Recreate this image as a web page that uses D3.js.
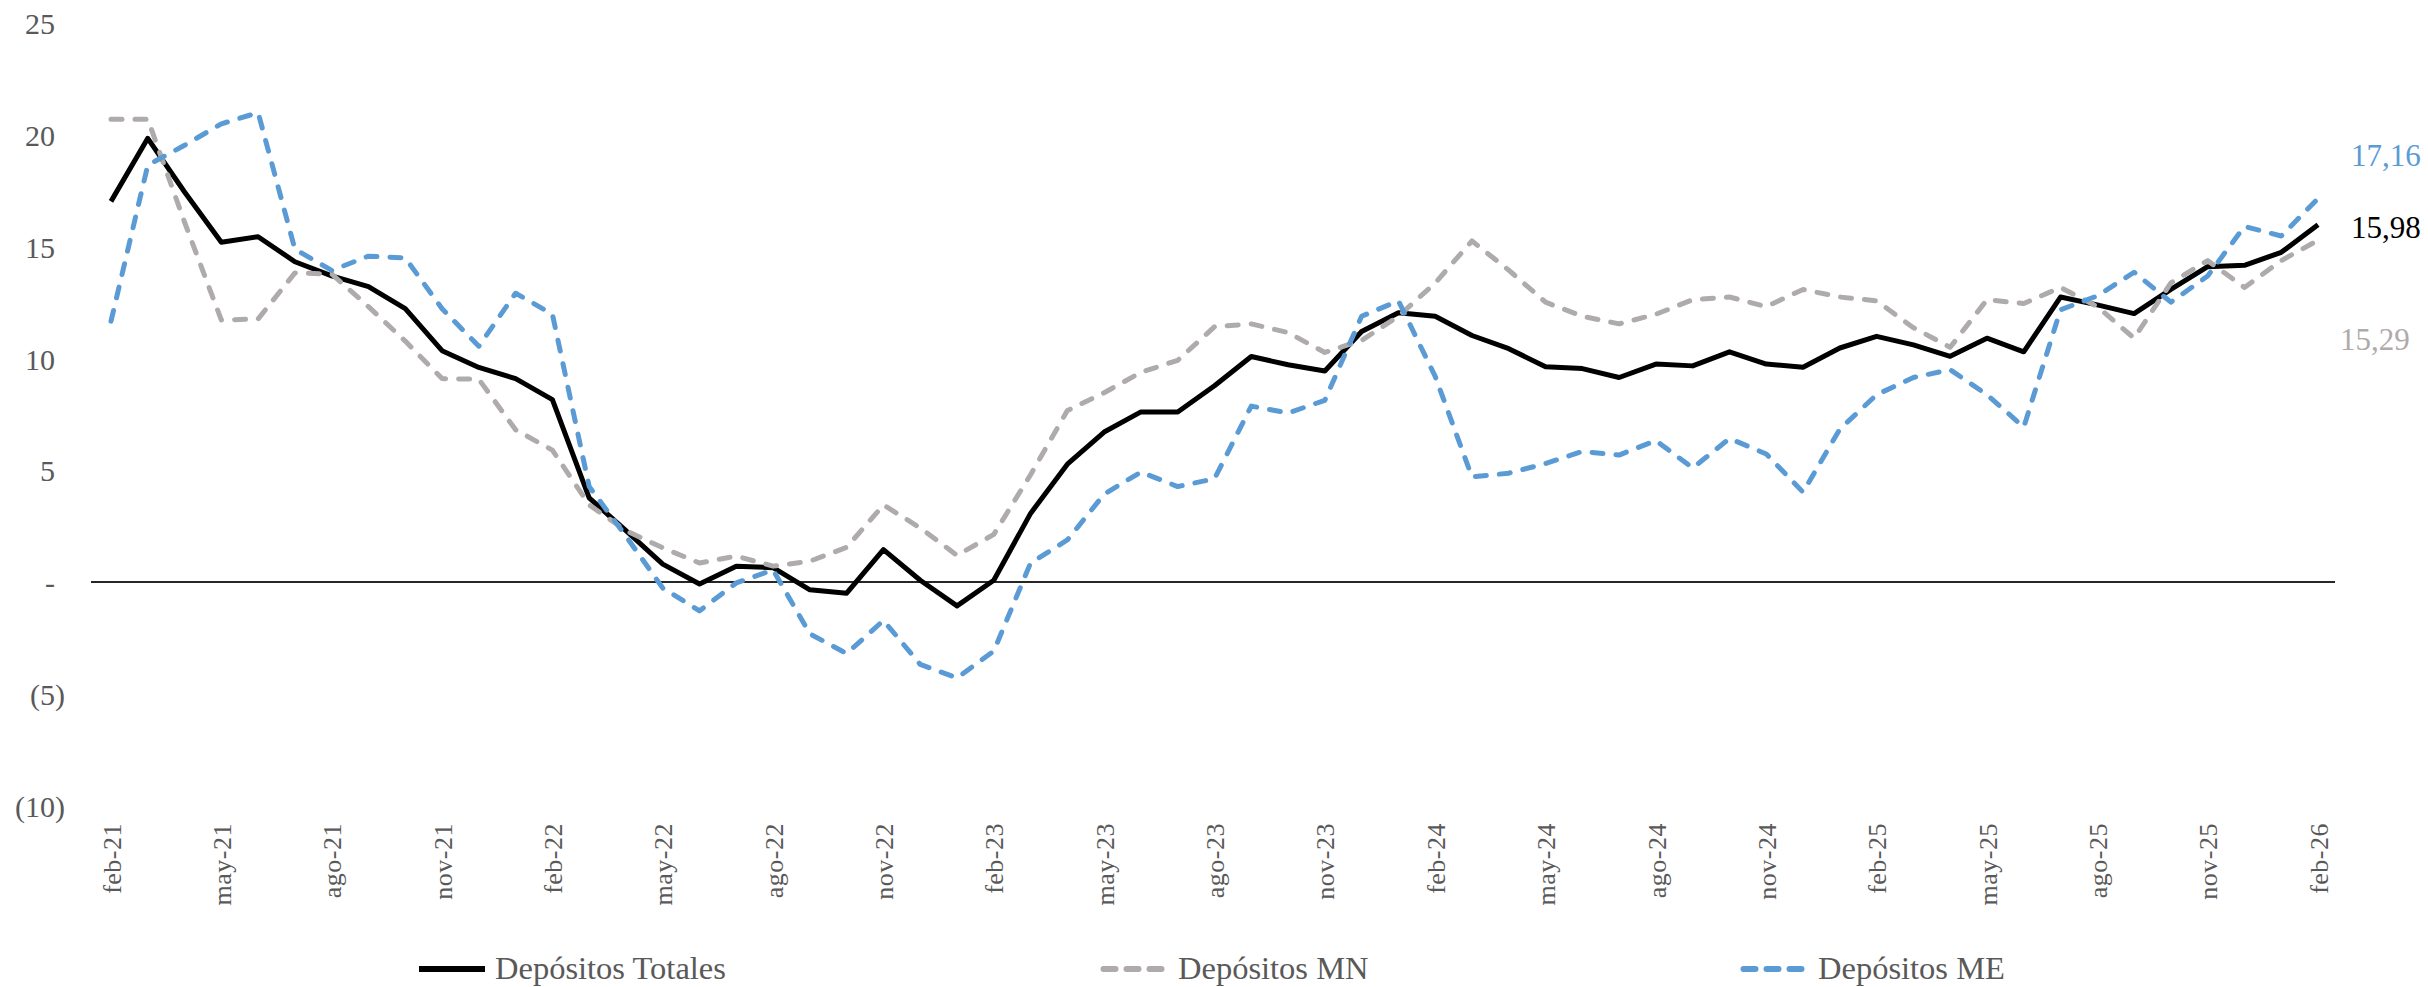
<!DOCTYPE html>
<html>
<head>
<meta charset="utf-8">
<script src="https://cdn.jsdelivr.net/npm/d3@7"></script>
<style>
  html, body { margin: 0; padding: 0; background: #ffffff; }
  svg { display: block; }
</style>
</head>
<body>
<svg id="chart" width="2428" height="987"></svg>
<script>
// Monthly periods, feb-21 .. feb-26
const monthNames = ["ene", "feb", "mar", "abr", "may", "jun", "jul", "ago", "sep", "oct", "nov", "dic"];
const periods = [];
for (let k = 0; k < 61; k++) {
  const m = (1 + k) % 12;
  const yr = 21 + Math.floor((1 + k) / 12);
  periods.push(monthNames[m] + "-" + yr);
}

// Year-on-year growth (%)
const depositosTotales = [
  17.03, 19.85, 17.45, 15.20, 15.45, 14.33, 13.70, 13.22, 12.23, 10.35,
  9.60, 9.10, 8.16, 3.76, 2.30, 0.80, -0.09, 0.71, 0.64, -0.35,
  -0.50, 1.45, 0.08, -1.07, 0.08, 3.07, 5.27, 6.71, 7.61, 7.61,
  8.78, 10.09, 9.72, 9.44, 11.21, 12.05, 11.89, 11.03, 10.44, 9.63,
  9.55, 9.15, 9.75, 9.67, 10.30, 9.75, 9.61, 10.47, 10.99, 10.61,
  10.10, 10.91, 10.30, 12.75, 12.40, 12.01, 13.09, 14.11, 14.17, 14.75, 15.98
];
const depositosMN = [
  20.71, 20.71, 16.10, 11.72, 11.77, 13.83, 13.78, 12.32, 10.78, 9.10,
  9.07, 6.81, 5.90, 3.45, 2.30, 1.53, 0.85, 1.16, 0.71, 0.93,
  1.55, 3.45, 2.42, 1.19, 2.13, 4.80, 7.67, 8.47, 9.38, 9.92,
  11.42, 11.55, 11.16, 10.27, 10.81, 11.89, 13.38, 15.26, 13.95, 12.52,
  11.89, 11.55, 11.98, 12.63, 12.75, 12.32, 13.09, 12.75, 12.58, 11.38,
  10.50, 12.63, 12.46, 13.18, 12.32, 10.91, 13.38, 14.38, 13.18, 14.38, 15.29
];
const depositosME = [
  11.67, 18.65, 19.54, 20.50, 21.00, 14.89, 13.94, 14.58, 14.50, 12.23,
  10.55, 12.92, 11.98, 4.27, 2.05, -0.27, -1.29, -0.04, 0.54, -2.32,
  -3.20, -1.72, -3.69, -4.29, -3.09, 0.85, 1.88, 3.93, 4.92, 4.27,
  4.62, 7.87, 7.56, 8.13, 11.89, 12.58, 9.20, 4.70, 4.87, 5.30,
  5.84, 5.68, 6.33, 5.10, 6.42, 5.73, 4.02, 6.84, 8.38, 9.15,
  9.50, 8.38, 6.93, 12.18, 12.80, 13.86, 12.52, 13.69, 15.91, 15.48, 17.16
];

const yTicks = [-10, -5, 0, 5, 10, 15, 20, 25];
const seriesNames = ["Depósitos Totales", "Depósitos MN", "Depósitos ME"];

const series = [
  { name: seriesNames[0], values: depositosTotales, color: "#000000", dash: null,    labelColor: "#000000", dx: 33, dy: 13 },
  { name: seriesNames[1], values: depositosMN,      color: "#AFABAB", dash: "11,13", labelColor: "#AFABAB", dx: 22, dy: 110 },
  { name: seriesNames[2], values: depositosME,      color: "#5B9BD5", dash: "11,13", labelColor: "#5B9BD5", dx: 33, dy: -32 }
];

const serif = "'Liberation Serif', 'DejaVu Serif', serif";
const svg = d3.select("#chart").style("font-family", serif);
const textGrey = "#595959";

const x = d3.scalePoint().domain(periods).range([92.6, 2336.4]).padding(0.5);
const y = d3.scaleLinear().domain([-10, 25]).range([805.5, 23.25]);

// Y axis labels (accounting format: negatives in parentheses, zero as "-")
const fmt = v => v < 0 ? "(" + Math.abs(v) + ")" : (v === 0 ? "-" : String(v));
const yAxis = d3.axisLeft(y).tickValues(yTicks).tickSize(0).tickFormat(fmt);
const gy = svg.append("g").attr("transform", "translate(65,0)").call(yAxis)
  .attr("font-family", serif);
gy.select(".domain").remove();
gy.selectAll("text")
  .attr("x", d => d < 0 ? 0 : -10)
  .attr("dy", "0.35em")
  .attr("fill", textGrey)
  .style("font-size", "30px");

// Zero line
svg.append("line")
  .attr("x1", 91).attr("x2", 2335)
  .attr("y1", y(0)).attr("y2", y(0))
  .attr("stroke", "#262626").attr("stroke-width", 1.8);

// X axis labels every quarter, rotated
const xTickVals = periods.filter((p, i) => i % 3 === 0);
const xAxis = d3.axisBottom(x).tickValues(xTickVals).tickSize(0);
const gx = svg.append("g").attr("transform", "translate(0,823)").call(xAxis)
  .attr("font-family", serif);
gx.select(".domain").remove();
gx.selectAll("text")
  .attr("transform", "rotate(-90)")
  .attr("x", 0).attr("y", 0)
  .attr("dy", "0.35em")
  .attr("text-anchor", "end")
  .attr("fill", textGrey)
  .style("font-size", "26px")
  .style("letter-spacing", "0.5px");

// Series lines
const line = d3.line()
  .x((d, i) => x(periods[i]))
  .y(d => y(d));

series.forEach(s => {
  svg.append("path")
    .datum(s.values)
    .attr("d", line)
    .attr("fill", "none")
    .attr("stroke", s.color)
    .attr("stroke-width", 5)
    .attr("stroke-linejoin", "round")
    .attr("stroke-linecap", s.dash ? "round" : "butt")
    .attr("stroke-dasharray", s.dash);
});

// End-of-series value labels
const fmtComma = v => v.toFixed(2).replace(".", ",");
series.forEach(s => {
  const last = s.values.length - 1;
  svg.append("text")
    .attr("x", x(periods[last]) + s.dx)
    .attr("y", y(s.values[last]) + s.dy)
    .attr("fill", s.labelColor)
    .attr("font-family", serif)
    .style("font-size", "31px")
    .text(fmtComma(s.values[last]));
});

// Legend
const legendItems = [
  { s: series[0], x0: 419, x1: 485, tx: 495 },
  { s: series[1], x0: 1101, x1: 1166, tx: 1178 },
  { s: series[2], x0: 1741, x1: 1805, tx: 1818 }
];
const legendY = 969;
legendItems.forEach(it => {
  svg.append("line")
    .attr("x1", it.x0 + (it.s.dash ? 2.5 : 0)).attr("x2", it.x1)
    .attr("y1", legendY).attr("y2", legendY)
    .attr("stroke", it.s.color)
    .attr("stroke-width", 6)
    .attr("stroke-linecap", it.s.dash ? "round" : "butt")
    .attr("stroke-dasharray", it.s.dash ? "12,11" : null);
  svg.append("text")
    .attr("x", it.tx).attr("y", legendY + 10)
    .attr("fill", textGrey)
    .attr("font-family", serif)
    .style("font-size", "32.5px")
    .text(it.s.name);
});
</script>
</body>
</html>
